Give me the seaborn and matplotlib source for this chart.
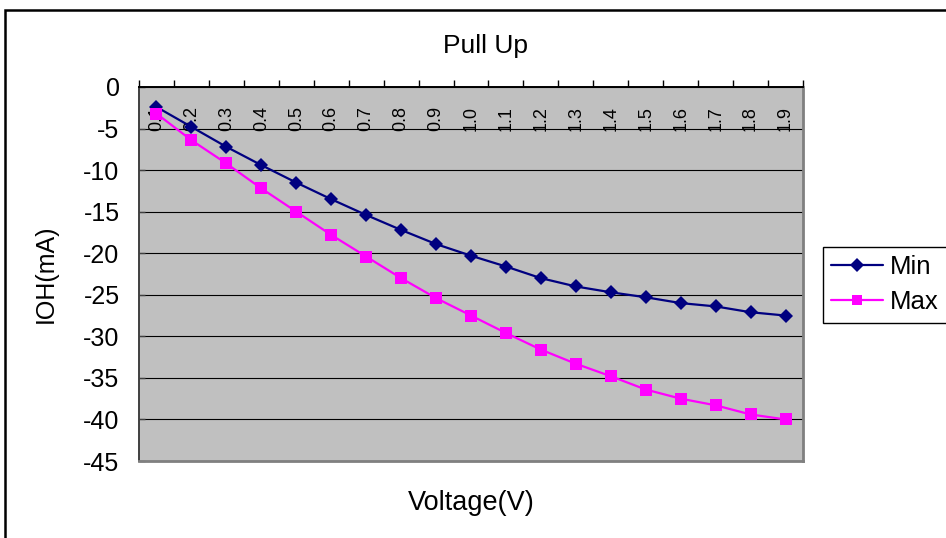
import numpy as np
import pandas as pd
import matplotlib
matplotlib.use("Agg")
import matplotlib.pyplot as plt
from matplotlib.patches import Rectangle
import seaborn as sns

# Pull-up output current vs. output voltage
voltage_labels = ["0.1", "0.2", "0.3", "0.4", "0.5", "0.6", "0.7", "0.8", "0.9", "1.0",
                  "1.1", "1.2", "1.3", "1.4", "1.5", "1.6", "1.7", "1.8", "1.9"]
ioh_min = [-2.4, -4.8, -7.2, -9.4, -11.5, -13.5, -15.4, -17.2, -18.9, -20.3,
           -21.6, -23.0, -24.0, -24.7, -25.3, -26.0, -26.4, -27.1, -27.5]
ioh_max = [-3.2, -6.4, -9.2, -12.2, -15.0, -17.8, -20.4, -23.0, -25.4, -27.5,
           -29.6, -31.6, -33.3, -34.8, -36.4, -37.5, -38.3, -39.4, -40.0]
series_names = ["Min", "Max"]
y_ticks = [0, -5, -10, -15, -20, -25, -30, -35, -40, -45]

pos = np.arange(len(voltage_labels))
df = pd.concat([
    pd.DataFrame({"pos": pos, "IOH": ioh_min, "series": "Min"}),
    pd.DataFrame({"pos": pos, "IOH": ioh_max, "series": "Max"}),
], ignore_index=True)

sns.set_theme(style="white")
plt.rcParams["font.family"] = ["Liberation Sans", "DejaVu Sans"]
plt.rcParams.update({"text.color": "black", "axes.labelcolor": "black",
                     "xtick.color": "black", "ytick.color": "black"})

W, H = 946, 538
fig = plt.figure(figsize=(W / 100, H / 100), dpi=100)
fig.patch.set_facecolor("white")

# chart-area frame
fig.patches.append(Rectangle((5 / W, -0.2), 1.2, 1.2 - 10 / H,
                             transform=fig.transFigure, fill=False,
                             edgecolor="black", linewidth=1.8, zorder=0))

left, right, top, bottom = 139, 803, 87, 461
ax = fig.add_axes([left / W, 1 - bottom / H, (right - left) / W, (bottom - top) / H])
ax.set_facecolor("#C0C0C0")

palette = {"Min": "#000080", "Max": "#FF00FF"}
markers = {"Min": "D", "Max": "s"}
sns.lineplot(data=df, x="pos", y="IOH", hue="series", style="series",
             hue_order=series_names, style_order=series_names,
             palette=palette, markers=markers, dashes=False,
             linewidth=1.6, markeredgewidth=0,
             legend=False, ax=ax, zorder=3)
marker_sizes = {"Min": 7.5, "Max": 8.5}
for line, name in zip(ax.get_lines(), series_names):
    line.set_markersize(marker_sizes[name])

ax.set_xlim(-0.5, len(voltage_labels) - 0.5)
ax.set_ylim(-45, 0)
ax.set_yticks(y_ticks)
ax.set_yticklabels([str(v) for v in y_ticks], fontsize=18)
ax.yaxis.grid(True, color="black", linewidth=0.8)
ax.set_axisbelow(True)

# category axis sits at y = 0 (top of the plot), labels hang inside
ax.xaxis.set_ticks_position("top")
ax.set_xticks(pos)
ax.set_xticklabels(voltage_labels, rotation=90, fontsize=13)
ax.set_xticks(np.arange(-0.5, len(voltage_labels)), minor=True)
ax.tick_params(axis="x", which="major", top=False, bottom=False,
               labeltop=True, labelbottom=False, pad=-38)
ax.tick_params(axis="x", which="minor", top=True, bottom=False,
               direction="out", length=5, width=1, color="black")
ax.tick_params(axis="y", left=True, direction="in", length=4, width=1,
               color="#404040", pad=14)

for side, c, lw in [("top", "black", 1.4), ("left", "#404040", 1.4),
                    ("right", "#808080", 2.0), ("bottom", "#808080", 2.0)]:
    ax.spines[side].set_visible(True)
    ax.spines[side].set_color(c)
    ax.spines[side].set_linewidth(lw)

ax.set_xlabel("Voltage(V)", fontsize=19.5)
ax.xaxis.set_label_position("bottom")
ax.xaxis.set_label_coords(0.5, -0.078)
ax.xaxis.label.set_va("top")
ax.set_ylabel("IOH(mA)", fontsize=18)
ax.yaxis.set_label_coords(-0.123, 0.5)

fig.text(485 / W, 1 - 53 / H, "Pull Up", fontsize=19, ha="center", va="baseline")

# legend outside on the right
handles = [plt.Line2D([], [], color=palette[n], marker=markers[n], linewidth=1.6,
                      markersize=7 if n == "Min" else 7.5, markeredgewidth=0)
           for n in series_names]
leg = fig.legend(handles, series_names, loc="upper left",
                 bbox_to_anchor=(823 / W, 1 - 247 / H), fontsize=18.5,
                 frameon=True, fancybox=False, framealpha=1, edgecolor="black",
                 handlelength=2.0, handletextpad=0.28, borderpad=0.33,
                 labelspacing=0.42, borderaxespad=0)
leg.get_frame().set_linewidth(1.0)

fig.savefig("out.png", dpi=100)
